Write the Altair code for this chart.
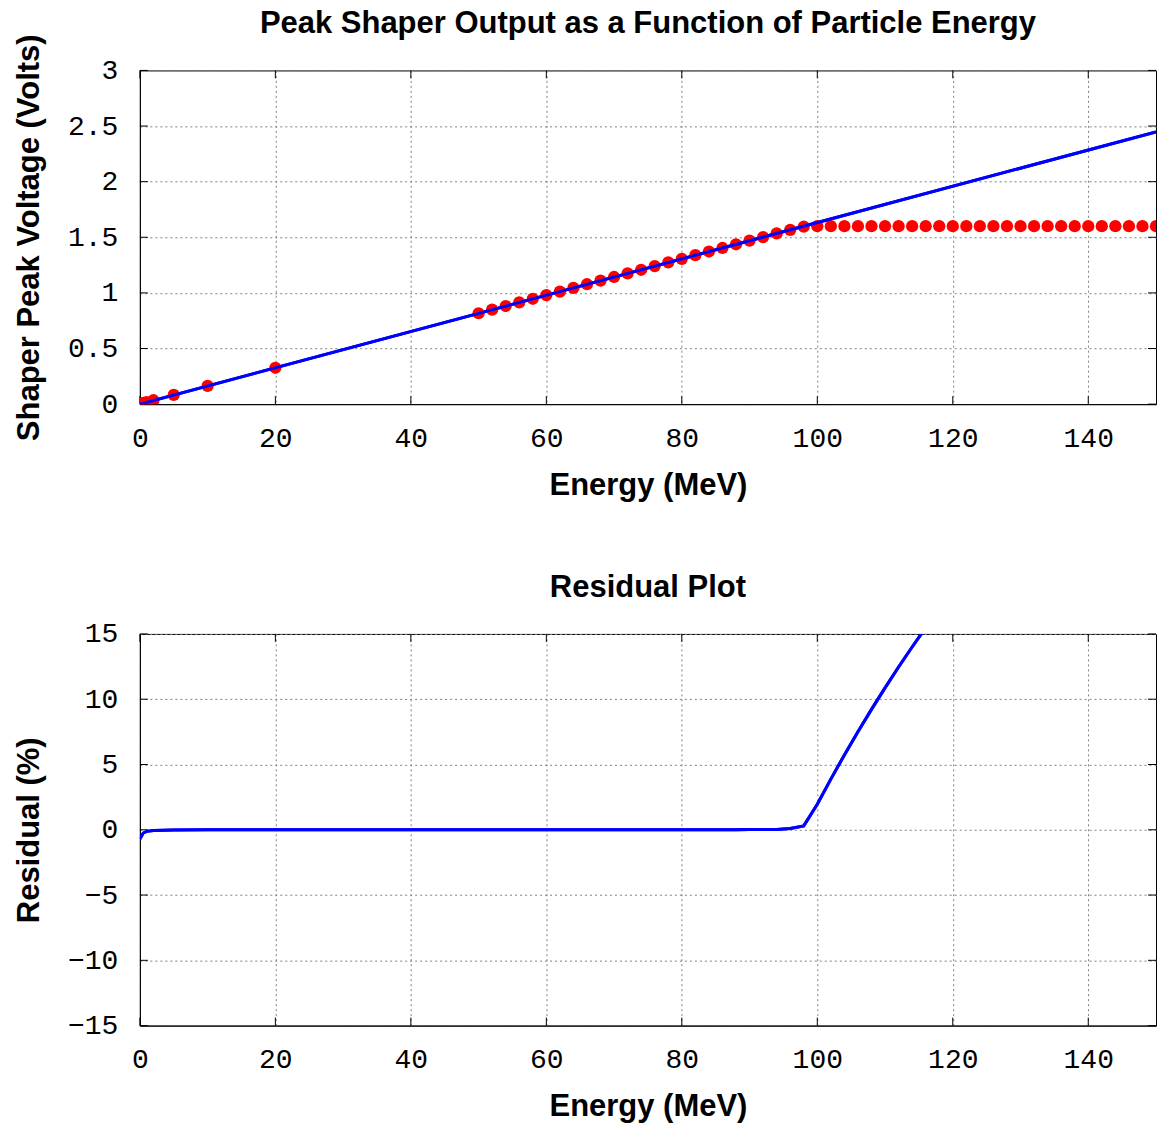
import altair as alt
import pandas as pd

# Measured data points (Energy in MeV, peak voltage in Volts)
energy = [0, 0.5, 1, 2, 5, 10, 20,
          50, 52, 54, 56, 58, 60, 62, 64, 66, 68, 70, 72, 74, 76, 78, 80,
          82, 84, 86, 88, 90, 92, 94, 96, 98,
          100, 102, 104, 106, 108, 110, 112, 114, 116, 118, 120, 122, 124,
          126, 128, 130, 132, 134, 136, 138, 140, 142, 144, 146, 148, 150]
voltage = [0.003, 0.011, 0.019, 0.035, 0.083, 0.164, 0.327,
           0.817, 0.849, 0.882, 0.915, 0.947, 0.980, 1.012, 1.045, 1.078, 1.110,
           1.143, 1.176, 1.208, 1.241, 1.274, 1.306,
           1.339, 1.372, 1.404, 1.437, 1.470, 1.502, 1.535, 1.566, 1.595,
           1.600, 1.600, 1.600, 1.600, 1.600, 1.600, 1.600, 1.600, 1.600, 1.600,
           1.600, 1.600, 1.600, 1.600, 1.600, 1.600, 1.600, 1.600, 1.600, 1.600,
           1.600, 1.600, 1.600, 1.600, 1.600, 1.600]

# Linear fit line endpoints
fit_energy = [0, 150]
fit_voltage = [0.0, 2.448]

# Residual (%) at each energy
residual = [-0.7, -0.25, -0.12, -0.06, -0.02, 0.0, 0.0,
            0.0, 0.0, 0.0, 0.0, 0.0, 0.0, 0.0, 0.0, 0.0, 0.0, 0.0, 0.0, 0.0,
            0.0, 0.0, 0.01, 0.01, 0.01, 0.01, 0.01, 0.02, 0.02, 0.03, 0.1, 0.3,
            1.96, 3.88, 5.73, 7.51, 9.22, 10.87, 12.47, 14.0, 15.48, 16.92,
            18.30, 19.64, 20.94, 22.19, 23.41, 24.59, 25.73, 26.84, 27.91,
            28.96, 29.97, 30.96, 31.92, 32.85, 33.76, 34.64]

x_ticks = [0, 20, 40, 60, 80, 100, 120, 140]
y1_ticks = [0, 0.5, 1, 1.5, 2, 2.5, 3]
y2_ticks = [-15, -10, -5, 0, 5, 10, 15]

pts = pd.DataFrame({"E": energy, "V": voltage})
fit = pd.DataFrame({"E": fit_energy, "V": fit_voltage})
res = pd.DataFrame({"E": energy, "R": residual})

W = 1017
H1 = 334
H2 = 392
TL = 8  # inward tick length (px)


def xenc():
    return alt.X("E:Q", title="Energy (MeV)",
                 scale=alt.Scale(domain=[0, 150], nice=False, zero=False),
                 axis=alt.Axis(values=x_ticks, format="d", labelFlush=False))


def inward_ticks(yfield, yticks, height):
    xt = pd.DataFrame({"E": x_ticks})
    yt = pd.DataFrame({yfield: yticks})
    style = dict(color="black", strokeWidth=1)
    bottom = alt.Chart(xt).mark_rule(**style).encode(
        x="E:Q", y=alt.value(height - TL), y2=alt.value(height))
    topr = alt.Chart(xt).mark_rule(**style).encode(
        x="E:Q", y=alt.value(0), y2=alt.value(TL))
    left = alt.Chart(yt).mark_rule(**style).encode(
        y=f"{yfield}:Q", x=alt.value(0), x2=alt.value(TL))
    right = alt.Chart(yt).mark_rule(**style).encode(
        y=f"{yfield}:Q", x=alt.value(W - TL), x2=alt.value(W))
    return [bottom, topr, left, right]


y_top = alt.Y("V:Q", title="Shaper Peak Voltage (Volts)",
              scale=alt.Scale(domain=[0, 3], nice=False),
              axis=alt.Axis(values=y1_ticks, format="~g"))

top_line = alt.Chart(fit).mark_line(color="#0000ff", strokeWidth=3, clip=True).encode(x=xenc(), y=y_top)
top_pts = alt.Chart(pts).mark_circle(color="#ff0000", opacity=1, size=150, clip=True).encode(x="E:Q", y="V:Q")

top = alt.layer(top_line, *inward_ticks("V", y1_ticks, H1), top_pts, top_line).properties(
    width=W, height=H1,
    title=alt.TitleParams("Peak Shaper Output as a Function of Particle Energy", offset=-6),
)

y_bot = alt.Y("R:Q", title="Residual (%)",
              scale=alt.Scale(domain=[-15, 15], nice=False),
              axis=alt.Axis(values=y2_ticks, format="d"))

bot_line = alt.Chart(res).mark_line(color="#0000ff", strokeWidth=3, clip=True).encode(x=xenc(), y=y_bot)

bot = alt.layer(bot_line, *inward_ticks("R", y2_ticks, H2), bot_line).properties(
    width=W, height=H2,
    title=alt.TitleParams("Residual Plot", offset=16),
)

chart = alt.vconcat(top, bot, spacing=70).properties(
    padding={"left": 13, "top": 6, "right": 3, "bottom": 0}
).configure(
    background="white",
).configure_view(
    stroke="black", strokeWidth=1,
).configure_axis(
    labelFont="Liberation Mono", labelFontSize=28, labelColor="black",
    titleFont="Liberation Sans", titleFontSize=31, titleFontWeight="bold", titleColor="black",
    grid=True, gridColor="#808080", gridDash=[2, 3], gridWidth=1, gridOpacity=1,
    domain=True, domainColor="black", domainWidth=1,
    ticks=False,
).configure_axisX(
    labelPadding=20, titlePadding=18,
).configure_axisY(
    labelPadding=22, titlePadding=22,
).configure_title(
    font="Liberation Sans", fontSize=31, fontWeight="bold", color="black", anchor="middle",
)

chart.save("out.html", embed_options={"renderer": "svg", "actions": False})
